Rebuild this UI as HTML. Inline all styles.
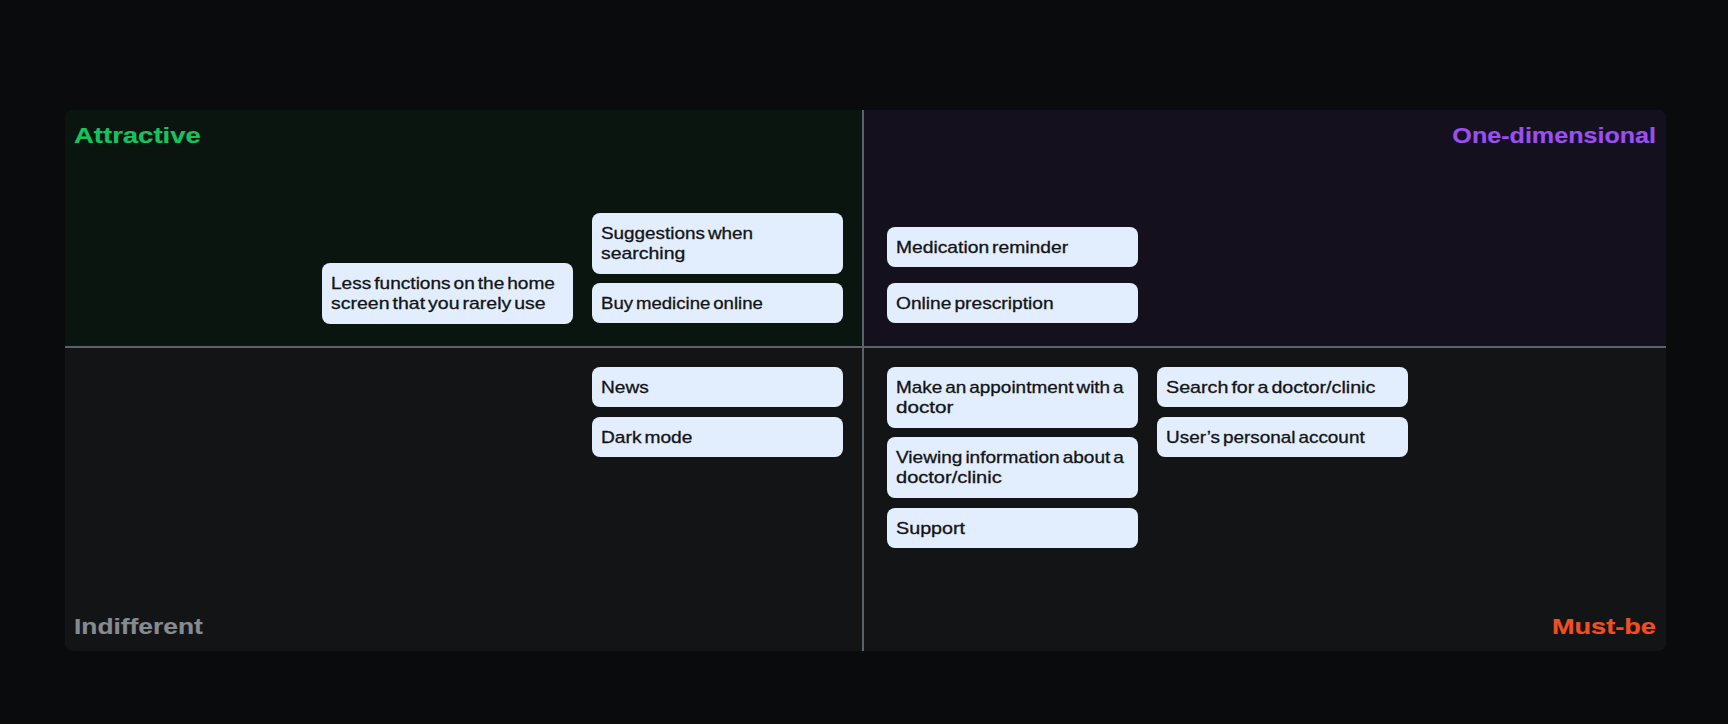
<!DOCTYPE html>
<html>
<head>
<meta charset="utf-8">
<style>
html,body{margin:0;padding:0;}
body{width:1728px;height:724px;background:#0a0b0d;position:relative;overflow:hidden;font-family:"Liberation Sans",sans-serif;}
.board{position:absolute;left:65px;top:110px;width:1601px;height:541px;border-radius:8px;overflow:hidden;background:#131416;}
.q{position:absolute;}
.q1{left:0;top:0;width:797px;height:236px;background:#0b1510;}
.q2{left:799px;top:0;width:802px;height:236px;background:#14101d;}
.vl{position:absolute;left:797px;top:0;width:2px;height:541px;background:#5b626a;}
.hl{position:absolute;left:0;top:236px;width:1601px;height:2px;background:#5b626a;}
.t{position:absolute;font-weight:bold;font-size:22.7px;line-height:28px;white-space:nowrap;-webkit-text-stroke:0.2px currentColor;}
.tl{transform-origin:left top;}
.tr{transform-origin:right top;}
.card{position:absolute;width:251px;box-sizing:border-box;padding:9px 9px 11px;background:#e2eefd;border-radius:8px;color:#17181b;}
.card span{display:block;font-size:16.2px;line-height:20.3px;white-space:nowrap;transform-origin:left center;transform:scaleX(1.163);word-spacing:-2px;-webkit-text-stroke:0.3px #131417;color:#131417;}
</style>
</head>
<body>
<div class="board">
  <div class="q q1"></div>
  <div class="q q2"></div>
  <div class="vl"></div>
  <div class="hl"></div>
</div>
<div class="t tl" style="left:74px;top:121px;color:#16c35f;transform:scaleX(1.2111)">Attractive</div>
<div class="t tr" style="right:72px;top:121px;color:#9b4ff0;transform:scaleX(1.1067)">One-dimensional</div>
<div class="t tl" style="left:74px;top:612px;color:#868b91;transform:scaleX(1.1610)">Indifferent</div>
<div class="t tr" style="right:72px;top:612px;color:#f04f24;transform:scaleX(1.1965)">Must-be</div>

<div class="card" style="left:322px;top:263px;"><span style="transform:translateY(0.5px) scaleX(1.1790)">Less functions on the home</span><span style="transform:translateY(0.5px) scaleX(1.2045)">screen that you rarely use</span></div>
<div class="card" style="left:592px;top:213px;"><span style="transform:translateY(0.5px) scaleX(1.1669)">Suggestions when</span><span style="transform:translateY(0.5px) scaleX(1.2008)">searching</span></div>
<div class="card" style="left:592px;top:283px;"><span style="transform:translateY(0.5px) scaleX(1.1490)">Buy medicine online</span></div>
<div class="card" style="left:887px;top:227px;"><span style="transform:translateY(0.5px) scaleX(1.1894)">Medication reminder</span></div>
<div class="card" style="left:887px;top:283px;"><span style="transform:translateY(0.5px) scaleX(1.1851)">Online prescription</span></div>
<div class="card" style="left:592px;top:367px;"><span style="transform:translateY(0.5px) scaleX(1.1811)">News</span></div>
<div class="card" style="left:592px;top:417px;"><span style="transform:translateY(0.5px) scaleX(1.1841)">Dark mode</span></div>
<div class="card" style="left:887px;top:367px;"><span style="transform:translateY(0.5px) scaleX(1.1704)">Make an appointment with a</span><span style="transform:translateY(0.5px) scaleX(1.2770)">doctor</span></div>
<div class="card" style="left:887px;top:437px;"><span style="transform:translateY(0.5px) scaleX(1.1780)">Viewing information about a</span><span style="transform:translateY(0.5px) scaleX(1.2367)">doctor/clinic</span></div>
<div class="card" style="left:887px;top:508px;"><span style="transform:translateY(0.5px) scaleX(1.2186)">Support</span></div>
<div class="card" style="left:1157px;top:367px;"><span style="transform:translateY(0.5px) scaleX(1.2158)">Search for a doctor/clinic</span></div>
<div class="card" style="left:1157px;top:417px;"><span style="transform:translateY(0.5px) scaleX(1.1689)">User’s personal account</span></div>
</body>
</html>
